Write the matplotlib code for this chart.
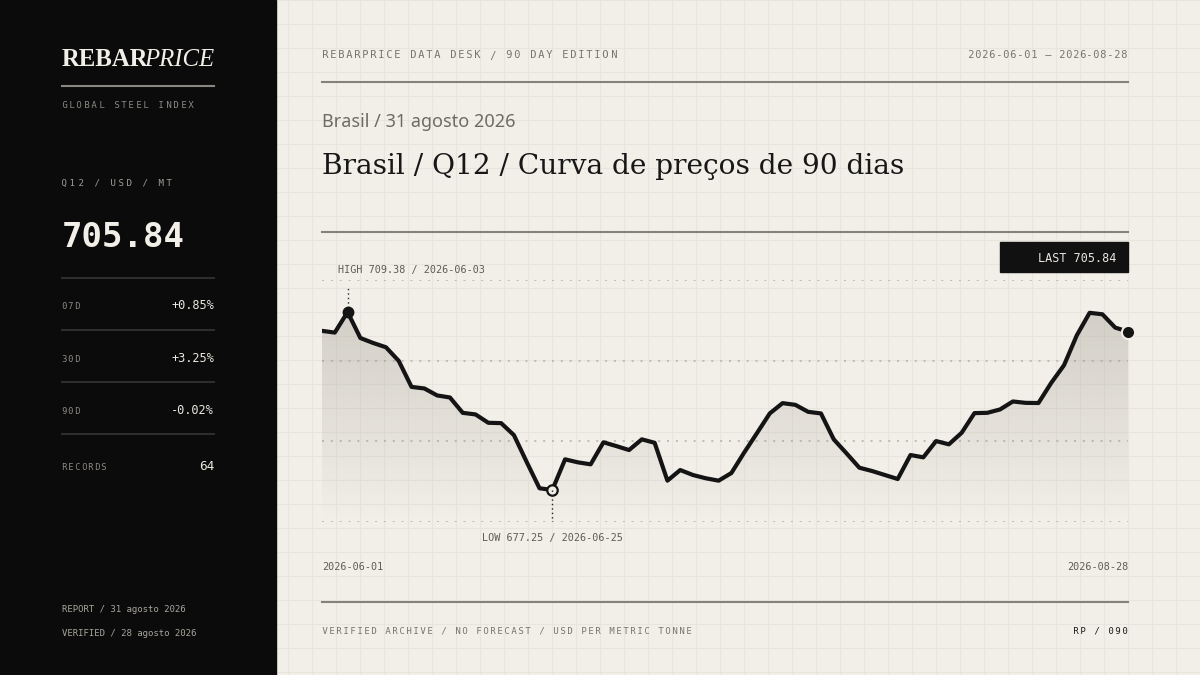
import numpy as np
import pandas as pd
import matplotlib
matplotlib.use("Agg")
import matplotlib.pyplot as plt
from matplotlib.patches import Rectangle
from matplotlib.path import Path
from matplotlib.font_manager import FontProperties, findfont, get_font

# ---------------- data ----------------
record_dates = [d.strftime("%Y-%m-%d") for d in pd.bdate_range("2026-06-01", "2026-08-28")
                if d.strftime("%Y-%m-%d") != "2026-07-03"]
prices = [705.98, 705.67, 709.38, 704.69, 703.79, 703.02, 700.55, 695.86, 695.58, 694.32,
          693.95, 691.18, 690.89, 689.38, 689.32, 687.16, 682.30, 677.56, 677.25, 682.78,
          682.24, 681.88, 685.86, 685.18, 684.46, 686.39, 685.77, 678.93, 680.85, 679.95,
          679.36, 678.93, 680.31, 684.01, 687.52, 691.07, 692.93, 692.62, 691.36, 691.07,
          686.39, 683.86, 681.27, 680.67, 679.95, 679.23, 683.56, 683.14, 686.08, 685.49,
          687.58, 691.13, 691.18, 691.79, 693.23, 692.98, 692.95, 696.59, 699.78, 705.18,
          709.24, 708.97, 706.57, 705.84]
stat_labels = ["07D", "30D", "90D"]
stat_values = ["+0.85%", "+3.25%", "-0.02%"]
brand_bold, brand_italic = "REBAR", "PRICE"
brand_sub = "GLOBAL STEEL INDEX"
unit_label = "Q12 / USD / MT"
header_left = "REBARPRICE DATA DESK / 90 DAY EDITION"
kicker = "Brasil / 31 agosto 2026"
title = "Brasil / Q12 / Curva de preços de 90 dias"
footer_left = "VERIFIED ARCHIVE / NO FORECAST / USD PER METRIC TONNE"
footer_right = "RP / 090"
report_lines = ["REPORT / 31 agosto 2026", "VERIFIED / 28 agosto 2026"]

# ---------------- style ----------------
PAPER = "#f2efe8"
GRID = "#e8e5de"
PANEL = "#0b0b0b"
INK = "#141414"
RULE = "#85827c"
MUTED = "#77736d"
MONO = "DejaVu Sans Mono"
plt.rcParams["font.family"] = ["DejaVu Sans"]

# a zero-advance glyph pins each letter's text box to its pen origin
_mono_font = get_font(findfont(FontProperties(family=MONO)))
_mono_font.set_size(10, 72)
PIN = None
for cp in (0x200B, 0x2060, 0xFEFF, 0x200C, 0x200D):
    try:
        if _mono_font.get_char_index(cp):
            g = _mono_font.load_char(cp)
            if g.linearHoriAdvance == 0:
                PIN = chr(cp)
                break
    except Exception:
        pass

fig = plt.figure(figsize=(12, 6.75), dpi=100)
renderer = fig.canvas.get_renderer()
bg = fig.add_axes([0, 0, 1, 1])
bg.set_xlim(0, 1200)
bg.set_ylim(675, 0)
bg.axis("off")
bg.add_patch(Rectangle((0, 0), 1200, 675, color=PAPER, zorder=0))
for gx in range(0, 1201, 24):
    bg.plot([gx, gx], [0, 675], color=GRID, lw=0.75, zorder=1)
for gy in range(0, 676, 24):
    bg.plot([0, 1200], [gy, gy], color=GRID, lw=0.75, zorder=1)
bg.add_patch(Rectangle((0, 0), 276, 675, color=PANEL, zorder=2))


def spaced(x, y, s, pt, sp, color, ha="left", weight="normal"):
    """Monospace text with letter spacing, each glyph placed on its pen origin."""
    cell = 0.6021 * pt * 100 / 72
    adv = cell + sp
    total = len(s) * adv - sp
    if ha == "right":
        x0 = x - total
    elif ha == "center":
        x0 = x - total / 2
    else:
        x0 = x
    for i, ch in enumerate(s):
        if ch == " ":
            continue
        if PIN is not None:
            txt, xx = PIN + ch, x0 + i * adv
        else:
            txt, xx = " " + ch, x0 + i * adv - cell
        bg.text(xx, y, txt, fontfamily=MONO, fontsize=pt, color=color,
                ha="left", va="baseline", fontweight=weight, zorder=5)


# ---------------- left panel ----------------
t1 = bg.text(62, 65.7, brand_bold, fontfamily="Liberation Serif", fontweight="bold",
             fontsize=17.8, color=PAPER, va="baseline", zorder=5)
ext = t1.get_window_extent(renderer)
bg.text(ext.x1 - 4, 65.7, brand_italic, fontfamily="Liberation Serif", fontstyle="italic",
        fontsize=17.8, color=PAPER, va="baseline", zorder=5)
bg.plot([62, 214], [86, 86], color="#8a8780", lw=1.5, zorder=5)
spaced(62, 108.3, brand_sub, 6.5, 2.0, "#8e8a84")
spaced(62, 186, unit_label, 6.6, 2.5, "#a09c95")
bg.text(62, 246.7, f"{prices[-1]:.2f}", fontfamily=MONO, fontweight="bold", fontsize=24.5,
        color=PAPER, va="baseline", zorder=5)
for ry in [278, 330, 382, 434]:
    bg.plot([62, 214], [ry, ry], color="#2f2f2f", lw=1.4, zorder=5)
row_base = [309.3, 361.7, 413.7]
for lab, val, yb in zip(stat_labels, stat_values, row_base):
    spaced(62, yb, lab, 6.2, 1.4, "#8e8a84")
    bg.text(214, yb, val, fontfamily=MONO, fontsize=8.6, color="#ebe8e1",
            ha="right", va="baseline", zorder=5)
spaced(62, 470, "RECORDS", 6.2, 1.4, "#8e8a84")
bg.text(214, 470, f"{len(prices)}", fontfamily=MONO, fontsize=9.2, color="#ebe8e1",
        ha="right", va="baseline", zorder=5)
for txt, yb in zip(report_lines, [612.3, 636]):
    bg.text(62, yb, txt, fontfamily=MONO, fontsize=6.45, color="#a8a49d",
            va="baseline", zorder=5)

# ---------------- right header ----------------
spaced(322, 58.5, header_left, 7.5, 1.75, MUTED)
spaced(1128, 58.5, f"{record_dates[0]} — {record_dates[-1]}", 7.5, 0.72, MUTED, ha="right")
bg.plot([322, 1128], [81.5, 81.5], color=RULE, lw=1.5, zorder=5)
bg.text(322, 126.7, kicker, fontfamily="Noto Sans", fontsize=13, color="#6e6a64",
        va="baseline", zorder=5)
bg.text(322, 174, title, fontfamily="DejaVu Serif", fontsize=20.2, color="#171717",
        va="baseline", zorder=5)
bg.plot([322, 1128], [232, 232], color=RULE, lw=1.5, zorder=5)
bg.plot([322, 1128], [602, 602], color=RULE, lw=1.5, zorder=5)
spaced(322, 633.7, footer_left, 6.5, 1.57, MUTED)
spaced(1128, 633.7, footer_right, 6.5, 1.64, "#1a1a1a", ha="right")

# LAST box
bg.add_patch(Rectangle((1000, 242), 128, 30, color="#111111", zorder=5))
bg.text(1116, 262.5, f"LAST {prices[-1]:.2f}", fontfamily=MONO, fontsize=8.5,
        color="#e8e5de", ha="right", va="baseline", zorder=6)

# ---------------- chart ----------------
ax = fig.add_axes([322 / 1200, (675 - 522) / 675, 806 / 1200, 242 / 675])
ax.patch.set_alpha(0)
ax.axis("off")
idx = np.arange(len(prices))
p = np.array(prices)
lo, hi = p.min(), p.max()
i_lo, i_hi = int(p.argmin()), int(p.argmax())
pad = 0.18 * (hi - lo)
y0, y1 = lo - pad, hi + pad

for yv in np.linspace(y0, y1, 4):
    ax.plot([0, len(prices) - 1], [yv, yv], color="#bcb8b0", lw=1.3,
            linestyle=(0, (1.1, 3.8)), zorder=1)

verts = [(0, y0)] + list(zip(idx, p)) + [(len(prices) - 1, y0), (0, y0)]
grad = np.zeros((256, 1, 4))
grad[..., 0] = 0x9f / 255
grad[..., 1] = 0x9b / 255
grad[..., 2] = 0x92 / 255
grad[:, 0, 3] = np.linspace(0.0, 0.38, 256)
im = ax.imshow(grad, extent=[0, len(prices) - 1, y0, hi], origin="lower",
               aspect="auto", zorder=2, interpolation="bilinear")
im.set_clip_path(Path(verts), ax.transData)
ax.set_xlim(0, len(prices) - 1)
ax.set_ylim(y0, y1)

ax.plot(idx, p, color=INK, lw=3.0, solid_joinstyle="round", solid_capstyle="round", zorder=5)

# high
ax.plot([i_hi, i_hi], [hi, y0 + 0.971 * (y1 - y0)], color="#222222", lw=1.0,
        linestyle=(0, (1, 2.2)), zorder=4)
ax.plot(i_hi, hi, "o", ms=7.5, color=INK, zorder=6, clip_on=False)
ax.annotate(f"HIGH {hi:.2f} / {record_dates[i_hi]}", xy=(i_hi, 1),
            xycoords=("data", "axes fraction"), xytext=(-9.6 * 0.72, 6.7 * 0.72),
            textcoords="offset points", ha="left", va="baseline",
            fontfamily=MONO, fontsize=7.3, color="#5f5b55")
# low
ax.plot(i_lo, lo, "o", ms=7.5, mfc=PAPER, mec=INK, mew=1.6, zorder=6, clip_on=False)
ax.plot([i_lo, i_lo], [lo, y0], color="#222222", lw=1.0,
        linestyle=(0, (1, 2.2)), zorder=7)
ax.annotate(f"LOW {lo:.2f} / {record_dates[i_lo]}", xy=(i_lo, 0),
            xycoords=("data", "axes fraction"), xytext=(0, -19.3 * 0.72),
            textcoords="offset points", ha="center", va="baseline",
            fontfamily=MONO, fontsize=7.3, color="#5f5b55")
# last
ax.plot(len(prices) - 1, p[-1], "o", ms=9.5, mfc=INK, mec=PAPER, mew=1.5,
        zorder=8, clip_on=False)

# date ends
ax.annotate(record_dates[0], xy=(0, 0), xycoords=("data", "axes fraction"),
            xytext=(0, -48 * 0.72), textcoords="offset points", ha="left",
            va="baseline", fontfamily=MONO, fontsize=7.3, color="#5f5b55")
ax.annotate(record_dates[-1], xy=(len(prices) - 1, 0), xycoords=("data", "axes fraction"),
            xytext=(0, -48 * 0.72), textcoords="offset points", ha="right",
            va="baseline", fontfamily=MONO, fontsize=7.3, color="#5f5b55")

fig.savefig("out.png", dpi=100)
